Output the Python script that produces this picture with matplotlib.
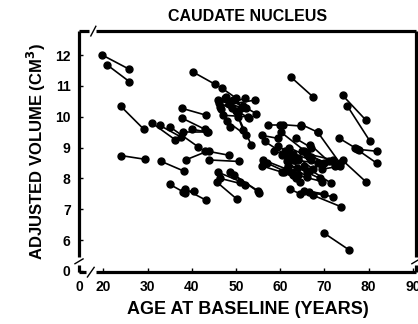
import matplotlib
matplotlib.use("Agg")
import matplotlib.pyplot as plt

plt.rcParams['font.family'] = ['Liberation Sans', 'DejaVu Sans']
plt.rcParams['font.weight'] = 'bold'

# baseline age / volume and follow-up age / volume for each subject
base_age = [19.8, 20.9, 23.9, 24.1,
            30.9, 32.8, 35.0, 37.9, 37.9, 38.0, 40.0,
            33.0, 35.0, 38.0, 38.5, 38.6, 43.0, 44.0,
            40.2, 45.9, 46.3, 46.9, 47.8, 48.5, 49.3, 47.1, 46.6, 50.0, 50.5, 48.0,
            46.2, 47.5, 49.0,
            45.6, 46.0, 48.6, 49.5, 46.5,
            55.8, 57.2, 56.5, 56.2, 56.0, 57.0, 58.5, 60.0, 60.2, 60.5, 61.0, 61.8,
            62.0, 62.5, 63.0, 63.5, 64.8, 65.0, 65.5, 66.0, 62.2, 65.5, 66.5, 67.5,
            68.5, 69.5, 67.0, 64.0, 59.5, 61.5, 63.8, 66.8, 60.8, 62.8,
            62.5, 74.1, 75.2, 73.4, 77.3, 77.0, 74.1, 70.0]
base_vol = [12.0, 11.68, 10.35, 8.74,
            9.81, 9.72, 9.68, 10.27, 9.95, 9.50, 9.60,
            8.56, 7.81, 7.57, 7.65, 8.60, 8.90, 8.60,
            11.46, 10.54, 10.32, 10.92, 10.65, 10.40, 10.54, 10.05, 10.25, 10.20, 10.00, 9.85,
            10.45, 10.60, 10.30,
            7.89, 8.20, 8.22, 8.10, 8.00,
            9.40, 9.73, 9.20, 8.60, 8.40, 8.50, 8.90, 9.75, 9.50, 8.75, 8.90, 8.40,
            9.00, 8.20, 8.60, 9.30, 9.75, 8.90, 8.40, 8.80, 7.65, 7.60, 7.55, 7.45,
            9.50, 8.30, 8.70, 8.10, 9.05, 8.55, 8.35, 9.10, 8.20, 8.80,
            11.28, 10.70, 10.35, 9.30, 8.95, 8.98, 8.59, 6.22]
follow_age = [25.9, 25.9, 29.2, 29.5,
              36.2, 37.5, 41.5, 43.3, 42.9, 43.5, 43.6,
              38.2, 38.4, 40.5, 43.3, 43.8, 48.5, 50.8,
              45.2, 51.2, 52.0, 50.1, 52.3, 54.2, 54.6, 52.7, 48.6, 51.6, 53.5, 52.3,
              50.5, 51.5, 53.0,
              50.2, 51.0, 55.3, 55.0, 52.0,
              59.5, 60.6, 62.0, 61.5, 60.5, 63.0, 64.0, 64.8, 65.5, 66.0, 67.0, 66.5,
              66.5, 64.5, 68.5, 67.0, 68.5, 70.0, 71.5, 72.0, 64.4, 70.0, 71.9, 73.8,
              73.5, 73.5, 72.5, 69.5, 64.0, 66.0, 69.0, 71.0, 63.5, 67.5,
              67.4, 79.4, 80.3, 77.8, 82.0, 81.8, 79.4, 75.6]
follow_vol = [11.54, 11.14, 9.59, 8.62,
              9.26, 9.35, 9.02, 10.05, 9.60, 9.50, 9.50,
              8.24, 7.54, 7.60, 7.29, 8.90, 8.75, 8.55,
              11.06, 10.30, 10.60, 10.60, 10.27, 10.54, 10.10, 10.00, 9.68, 9.57, 9.08, 9.40,
              10.15, 10.35, 9.95,
              7.33, 7.90, 7.54, 7.60, 7.80,
              9.30, 9.73, 8.70, 8.30, 8.20, 8.10, 8.60, 9.70, 8.90, 8.20, 8.60, 8.25,
              8.70, 7.90, 8.50, 9.00, 9.50, 8.50, 7.85, 8.60, 7.51, 7.50, 7.41, 7.08,
              8.50, 8.40, 8.40, 7.90, 8.65, 8.05, 8.00, 8.55, 8.00, 8.30,
              10.65, 9.89, 9.21, 8.92, 8.88, 8.50, 7.89, 5.68]

xticks = [14.5, 20, 30, 40, 50, 60, 70, 80, 90]
xticklabels = ['0', '20', '30', '40', '50', '60', '70', '80', '90']
yticks = [5, 6, 7, 8, 9, 10, 11, 12]
yticklabels = ['0', '6', '7', '8', '9', '10', '11', '12']

fig = plt.figure(figsize=(4.18, 3.24), dpi=100)
ax = fig.add_axes([0.189, 0.160, 0.806, 0.744])

for i in range(len(base_age)):
    ax.plot([base_age[i], follow_age[i]], [base_vol[i], follow_vol[i]],
            color='black', lw=1.2, marker='o', ms=5, mfc='black', mec='black')

ax.set_xlim(14.5, 90.7)
ax.set_ylim(4.96, 12.78)
ax.set_xticks(xticks)
ax.set_xticklabels(xticklabels)
ax.set_yticks(yticks)
ax.set_yticklabels(yticklabels)
ax.tick_params(direction='in', length=3, width=1, labelsize=10, pad=6)

for s in ax.spines.values():
    s.set_visible(False)

# frame with axis breaks near the origin
lw = 2.3
tr = ax.transAxes
segs = [([0, 0], [1, 0.062]), ([0, 0], [0.03, 0]), ([0, 0.02], [0, 0]),
        ([0.05, 1], [0, 0]), ([0, 0.03], [1, 1]), ([0.05, 1], [1, 1]),
        ([1, 1], [1, 0.062]), ([1, 1], [0.03, 0])]
for xs, ys in segs:
    ax.plot(xs, ys, color='black', lw=lw, transform=tr, clip_on=False,
            solid_capstyle='butt')
brk = [([-0.012, 0.012], [0.035, 0.055]), ([0.025, 0.045], [-0.02, 0.02]),
       ([0.035, 0.05], [0.98, 1.02]), ([0.988, 1.012], [0.035, 0.055])]
for xs, ys in brk:
    ax.plot(xs, ys, color='black', lw=1, transform=tr, clip_on=False)

ax.set_title('CAUDATE NUCLEUS', fontsize=11.5, fontweight='bold', pad=7)
ax.set_xlabel('AGE AT BASELINE (YEARS)', fontsize=13, fontweight='bold', labelpad=5)
ax.set_ylabel(r'ADJUSTED VOLUME (CM$^{\mathbf{3}}$)', fontsize=12,
              fontweight='bold', labelpad=5)

fig.savefig('out.png', dpi=100)
